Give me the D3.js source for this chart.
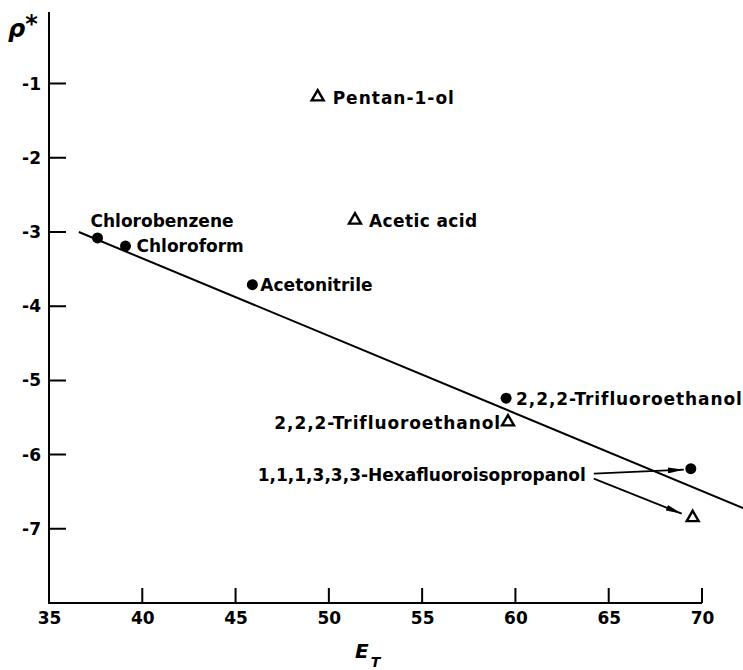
<!DOCTYPE html>
<html>
<head>
<meta charset="utf-8">
<script src="https://cdn.jsdelivr.net/npm/d3@7"></script>
<style>
  body { margin: 0; background: #fff; }
  svg { display: block; }
  text { font-family: "DejaVu Sans", sans-serif; font-weight: bold; fill: #000; }
</style>
</head>
<body>
<svg id="chart"></svg>
<script>
// solvents plotted as filled circles
var circleNames = ["Chlorobenzene", "Chloroform", "Acetonitrile", "2,2,2-Trifluoroethanol", "1,1,1,3,3,3-Hexafluoroisopropanol"];
var circleET = [37.6, 39.1, 45.9, 59.5, 69.4];
var circleRho = [-3.08, -3.19, -3.71, -5.24, -6.19];

// solvents plotted as open triangles
var triangleNames = ["Pentan-1-ol", "Acetic acid", "2,2,2-Trifluoroethanol", "1,1,1,3,3,3-Hexafluoroisopropanol"];
var triangleET = [49.4, 51.4, 59.6, 69.5];
var triangleRho = [-1.18, -2.84, -5.56, -6.85];

// fitted straight line (two ends)
var fitET = [36.6, 72.2];
var fitRho = [-3.0, -6.72];

var xTicks = [35, 40, 45, 50, 55, 60, 65, 70];
var yTicks = [-1, -2, -3, -4, -5, -6, -7];

var width = 743;
var height = 670;

var svg = d3.select("#chart")
  .attr("width", width)
  .attr("height", height);

var xscale = d3.scaleLinear().domain([35, 70]).range([49, 702]);
var yscale = d3.scaleLinear().domain([-8, 0]).range([603, 9.4]);

// label placement: [dx, dy, anchor, letter spacing]
var circleLabelPos = [[-7, -11, "start", 0], [11, 6, "start", 0], [8, 6, "start", 0], [10, 7, "start", 0.9], null];
var triangleLabelPos = [[15, 7, "start", 1], [14, 7, "start", 0.4], [-7, 7, "end", 0.9], null];

var fontSize = 17;
var x0 = xscale(35), y0 = yscale(-8);

//X axis
var xaxis = d3.axisBottom(xscale)
  .tickValues(xTicks)
  .tickSize(0)
  .tickPadding(9)
  .tickFormat(d3.format("d"));

var gx = svg.append("g")
  .attr("transform", "translate(0," + y0 + ")")
  .call(xaxis);
gx.select(".domain").remove();
gx.selectAll(".tick line").remove();
gx.selectAll(".tick text")
  .attr("font-size", fontSize)
  .attr("font-family", "DejaVu Sans");

//Y axis
var yaxis = d3.axisLeft(yscale)
  .tickValues(yTicks)
  .tickSize(0)
  .tickPadding(8)
  .tickFormat(function(d){ return "-" + Math.abs(d); });

var gy = svg.append("g")
  .attr("transform", "translate(" + x0 + ",0)")
  .call(yaxis);
gy.select(".domain").remove();
gy.selectAll(".tick line").remove();
gy.selectAll(".tick text")
  .attr("font-size", fontSize)
  .attr("font-family", "DejaVu Sans");

//Axis lines and inward ticks
var axisPath = "M" + x0 + ",12V" + y0 + "H" + xscale(70);
yTicks.forEach(function(t){ axisPath += "M" + x0 + "," + yscale(t) + "h17"; });
xTicks.filter(function(t){ return t > 35; })
  .forEach(function(t){ axisPath += "M" + xscale(t) + "," + y0 + "v-15"; });
svg.append("path")
  .attr("d", axisPath)
  .attr("fill", "none")
  .attr("stroke", "#000")
  .attr("stroke-width", 2);

//Axis titles
var xt = svg.append("text")
  .attr("x", 355)
  .attr("y", 658)
  .attr("font-size", 20)
  .attr("font-weight", "normal")
  .attr("font-style", "italic")
  .text("E");
xt.append("tspan")
  .attr("font-size", 14)
  .attr("dx", 2)
  .attr("dy", 9)
  .text("T");

var yt = svg.append("text")
  .attr("x", 8)
  .attr("y", 37)
  .attr("font-size", 24)
  .attr("font-weight", "normal")
  .attr("font-style", "italic")
  .text("ρ");
yt.append("tspan")
  .attr("font-size", 24)
  .attr("font-style", "normal")
  .attr("font-weight", "bold")
  .attr("dx", 0)
  .attr("dy", -5)
  .text("*");

//Fitted line
var fitData = fitET.map(function(e, i){ return [e, fitRho[i]]; });
svg.append("path")
  .datum(fitData)
  .attr("fill", "none")
  .attr("stroke", "#000")
  .attr("stroke-width", 2)
  .attr("d", d3.line()
    .x(function(d){ return xscale(d[0]); })
    .y(function(d){ return yscale(d[1]); }));

//Circles
var circles = circleNames.map(function(n, i){ return {name: n, et: circleET[i], rho: circleRho[i], pos: circleLabelPos[i]}; });
var cg = svg.append("g").selectAll("g")
  .data(circles)
  .enter()
  .append("g")
  .attr("transform", function(d){ return "translate(" + xscale(d.et) + "," + yscale(d.rho) + ")"; });
cg.append("circle")
  .attr("r", 5.5)
  .attr("fill", "#000");
cg.filter(function(d){ return d.pos; })
  .append("text")
  .attr("x", function(d){ return d.pos[0]; })
  .attr("y", function(d){ return d.pos[1]; })
  .attr("text-anchor", function(d){ return d.pos[2]; })
  .attr("letter-spacing", function(d){ return d.pos[3]; })
  .attr("font-size", fontSize)
  .text(function(d){ return d.name; });

//Triangles
var triangles = triangleNames.map(function(n, i){ return {name: n, et: triangleET[i], rho: triangleRho[i], pos: triangleLabelPos[i]}; });
var tg = svg.append("g").selectAll("g")
  .data(triangles)
  .enter()
  .append("g")
  .attr("transform", function(d){ return "translate(" + xscale(d.et) + "," + yscale(d.rho) + ")"; });
tg.append("path")
  .attr("d", d3.symbol().type(d3.symbolTriangle).size(62))
  .attr("fill", "none")
  .attr("stroke", "#000")
  .attr("stroke-width", 2.4)
  .attr("stroke-linejoin", "miter");
tg.filter(function(d){ return d.pos; })
  .append("text")
  .attr("x", function(d){ return d.pos[0]; })
  .attr("y", function(d){ return d.pos[1]; })
  .attr("text-anchor", function(d){ return d.pos[2]; })
  .attr("letter-spacing", function(d){ return d.pos[3]; })
  .attr("font-size", fontSize)
  .text(function(d){ return d.name; });

//Hexafluoroisopropanol label with arrows
var hfC = circles[4];
var hfT = triangles[3];
var hx = xscale(hfC.et), hy = yscale(hfC.rho);
svg.append("text")
  .attr("x", hx - 105)
  .attr("y", hy + 12)
  .attr("text-anchor", "end")
  .attr("font-size", fontSize)
  .text(hfC.name);

svg.append("defs").append("marker")
  .attr("id", "arrow")
  .attr("viewBox", "0 0 16 6")
  .attr("refX", 16)
  .attr("refY", 3)
  .attr("markerWidth", 16)
  .attr("markerHeight", 6)
  .attr("markerUnits", "userSpaceOnUse")
  .attr("orient", "auto")
  .append("path")
  .attr("d", "M0,0L16,3L0,6Z")
  .attr("fill", "#000");

svg.append("line")
  .attr("x1", hx - 97).attr("y1", hy + 5)
  .attr("x2", hx - 7).attr("y2", hy + 1)
  .attr("stroke", "#000").attr("stroke-width", 1.8)
  .attr("marker-end", "url(#arrow)");
svg.append("line")
  .attr("x1", hx - 97).attr("y1", hy + 10)
  .attr("x2", xscale(hfT.et) - 11).attr("y2", yscale(hfT.rho) - 4)
  .attr("stroke", "#000").attr("stroke-width", 1.8)
  .attr("marker-end", "url(#arrow)");
</script>
</body>
</html>
